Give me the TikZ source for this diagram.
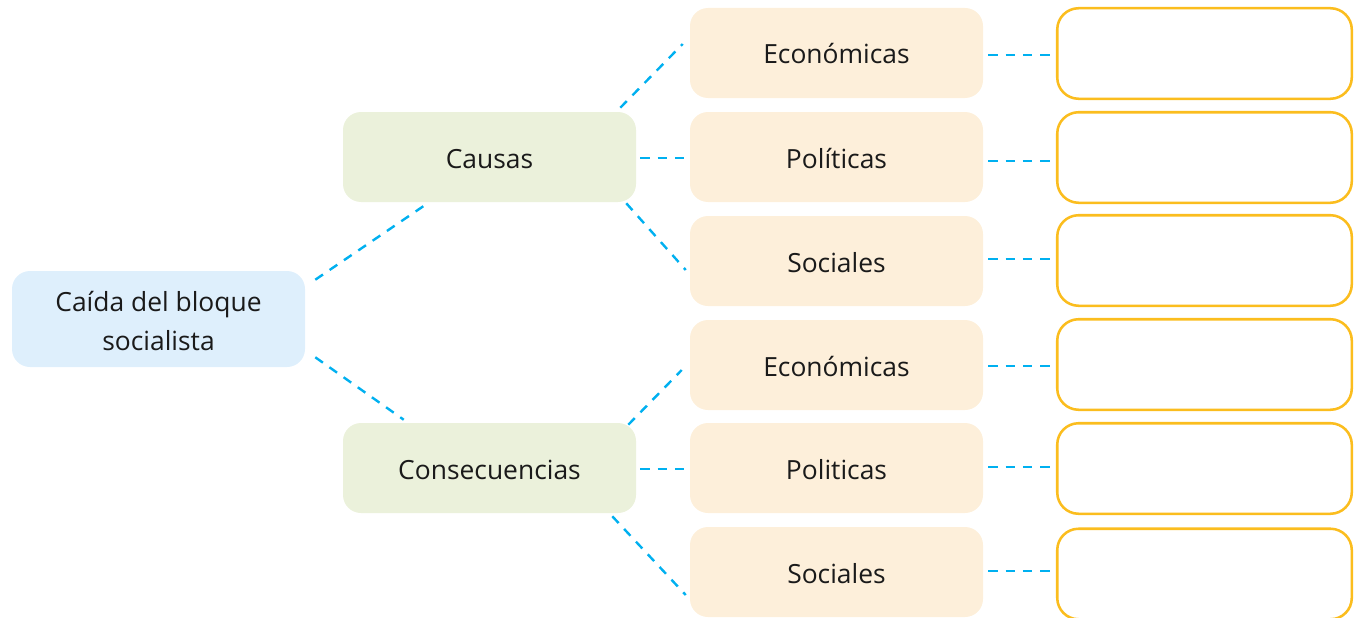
\documentclass[tikz,border=0pt]{standalone}
\usepackage{fontspec}
\setmainfont{Open Sans}
\usetikzlibrary{calc}
\definecolor{rootfill}{HTML}{DEEFFC}
\definecolor{midfill}{HTML}{EBF1DB}
\definecolor{catfill}{HTML}{FDEFDA}
\definecolor{boxline}{HTML}{FBBD1E}
\definecolor{dashcol}{HTML}{00B0F0}
\definecolor{txt}{HTML}{1A1A1A}
\tikzset{
  base/.style={rounded corners=13.5pt, align=center, text=txt,
    font=\fontsize{19.8}{29.5}\selectfont, inner sep=0pt},
  rootbox/.style={base, fill=rootfill, minimum width=219.75pt, minimum height=72pt},
  onel/.style={text height=16.5pt, text depth=0pt},
  midbox/.style={base, onel, fill=midfill, minimum width=219.75pt, minimum height=67.5pt},
  catbox/.style={base, onel, fill=catfill, minimum width=219.75pt, minimum height=67.5pt},
  emptybox/.style={rounded corners=16pt, draw=boxline, line width=1.9pt, fill=white,
    minimum width=220.9pt, minimum height=67.9pt, inner sep=0pt},
  link/.style={draw=dashcol, line width=1.8pt, dash pattern=on 7pt off 6pt}
}
\begin{document}
\begin{tikzpicture}[x=0.75pt,y=-0.75pt]
\useasboundingbox (0,0) rectangle (1355,617);
\clip (0,0) rectangle (1355,617);
\node[rootbox] (root) at (158.5,319)
  {\raisebox{-8.4pt}[0pt][0pt]{\begin{tabular}{@{}c@{}}Caída del bloque\\socialista\end{tabular}}};
\node[midbox] (causas) at (489.5,157) {Causas};
\node[midbox] (cons) at (489.5,468) {Consecuencias};
\node[catbox] (eco1) at (836.5,53) {Económicas};
\node[catbox] (pol1) at (836.5,157) {Políticas};
\node[catbox] (soc1) at (836.5,261) {Sociales};
\node[catbox] (eco2) at (836.5,365) {Económicas};
\node[catbox] (pol2) at (836.5,468) {Politicas};
\node[catbox] (soc2) at (836.5,572) {Sociales};
\node[emptybox] (w1) at (1204.5,53.5) {};
\node[emptybox] (w2) at (1204.5,157.5) {};
\node[emptybox] (w3) at (1204.5,260.5) {};
\node[emptybox] (w4) at (1204.5,364.5) {};
\node[emptybox] (w5) at (1204.5,468.5) {};
\node[emptybox] (w6) at (1204.5,574) {};
% connectors
\draw[link] ($(root.north east)+(10,9)$) -- ($(causas.south west)+(82,3)$);
\draw[link] ($(root.south east)+(10,-10)$) -- ($(cons.north west)+(61,-3)$);
\draw[link] ($(causas.north east)+(-16,-4)$) -- ($(eco1.west)+(-7,-9)$);
\draw[link] ($(causas.east)+(4,1)$) -- ($(pol1.west)+(-4,1)$);
\draw[link] ($(causas.south east)+(-10,1)$) -- ($(soc1.west)+(-4,9)$);
\draw[link] ($(cons.north east)+(-8,2)$) -- ($(eco2.west)+(-8,5)$);
\draw[link] ($(cons.east)+(4,1)$) -- ($(pol2.west)+(-4,1)$);
\draw[link] ($(cons.south east)+(-24,3)$) -- ($(soc2.west)+(-4,23)$);
\draw[link] ($(eco1.east)+(5,2)$) -- ($(w1.west)+(-1,1.5)$);
\draw[link] ($(pol1.east)+(5,4)$) -- ($(w2.west)+(-1,3.5)$);
\draw[link] ($(soc1.east)+(5,-2)$) -- ($(w3.west)+(-1,-1.5)$);
\draw[link] ($(eco2.east)+(5,1)$) -- ($(w4.west)+(-1,1.5)$);
\draw[link] ($(pol2.east)+(5,-1)$) -- ($(w5.west)+(-1,-1.5)$);
\draw[link] ($(soc2.east)+(5,-1)$) -- ($(w6.west)+(-1,-3)$);
\end{tikzpicture}
\end{document}
